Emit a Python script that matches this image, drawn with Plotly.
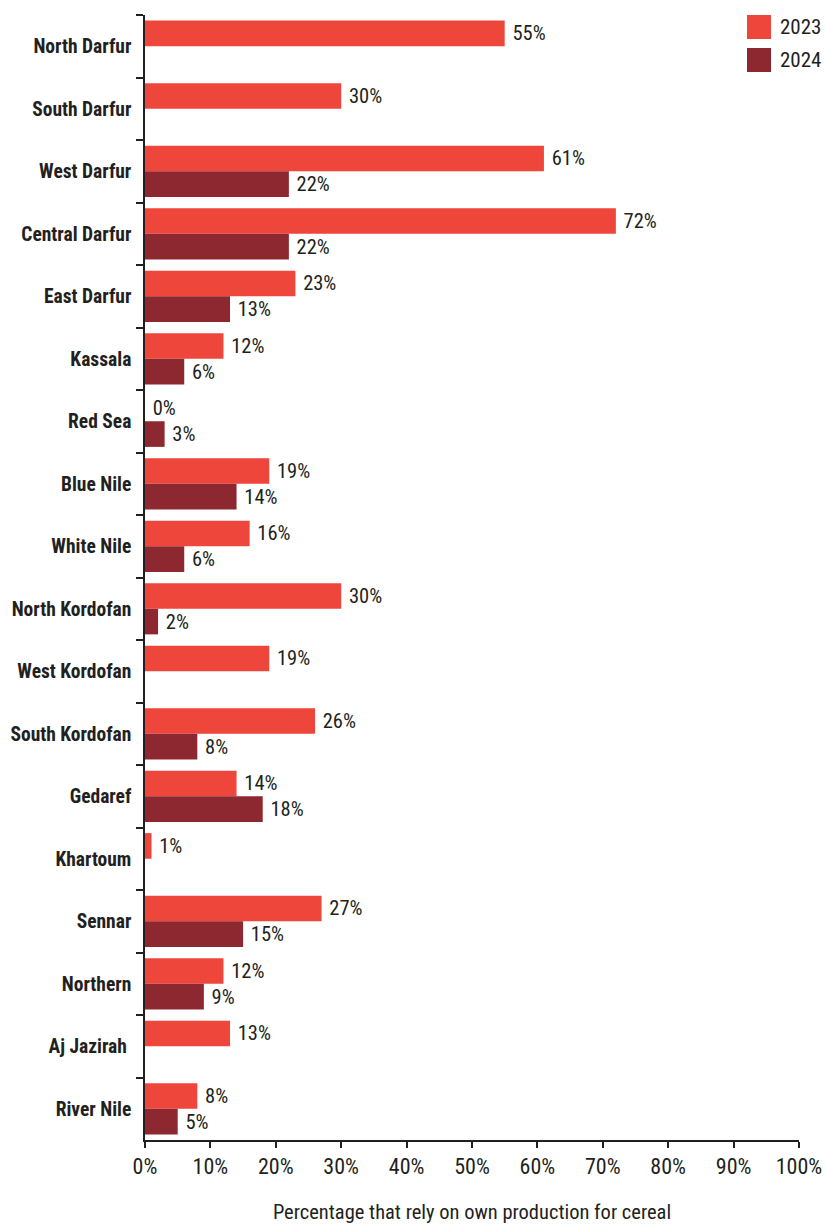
import plotly.graph_objects as go

regions = [
    "North Darfur", "South Darfur", "West Darfur", "Central Darfur", "East Darfur",
    "Kassala", "Red Sea", "Blue Nile", "White Nile", "North Kordofan",
    "West Kordofan", "South Kordofan", "Gedaref", "Khartoum", "Sennar",
    "Northern", "Aj Jazirah ", "River Nile",
]
share_2023 = [55, 30, 61, 72, 23, 12, 0, 19, 16, 30, 19, 26, 14, 1, 27, 12, 13, 8]
share_2024 = [None, None, 22, 22, 13, 6, 3, 14, 6, 2, None, 8, 18, None, 15, 9, None, 5]
x_ticks = list(range(0, 101, 10))
x_tick_labels = [f"{v}%" for v in x_ticks]

RED_2023 = "#EF463C"
RED_2024 = "#8E2830"
INK = "#231F20"
FONT = "Roboto Condensed, Liberation Sans Narrow, DejaVu Sans Condensed, sans-serif"

fig = go.Figure()
for name, vals, color in [("2023", share_2023, RED_2023), ("2024", share_2024, RED_2024)]:
    fig.add_trace(go.Bar(
        name=name, y=regions, x=vals, orientation="h",
        marker=dict(color=color, line=dict(width=0)),
        text=[None if v is None else f"\u00a0{v}%" for v in vals],
        textposition="outside", cliponaxis=False, constraintext="none",
        textfont=dict(family=FONT, size=20.5, color=INK),
        showlegend=False,
    ))

# legend swatches and labels, placed in pixel terms of the plot area
W, H = 825 - 145 - 26, 1224 - 15 - 84
def px_x(p): return (p - 145) / W
def px_y(p): return (1224 - 84 - p) / H
for i, (name, color) in enumerate([("2023", RED_2023), ("2024", RED_2024)]):
    top = 15 + i * 33
    fig.add_shape(type="rect", xref="paper", yref="paper",
                  x0=px_x(747), x1=px_x(771), y0=px_y(top), y1=px_y(top + 24),
                  fillcolor=color, line=dict(width=0))
    fig.add_annotation(xref="paper", yref="paper", x=px_x(778), y=px_y(top + 12),
                       text=name, showarrow=False, xanchor="left", yanchor="middle",
                       font=dict(family=FONT, size=21, color=INK))

fig.update_layout(
    width=825, height=1224,
    margin=dict(l=145, r=26, t=15, b=84),
    barmode="group", bargap=0.18, bargroupgap=0,
    plot_bgcolor="white", paper_bgcolor="white",
    font=dict(family=FONT, color=INK),
)
fig.update_xaxes(
    range=[0, 100], tickvals=x_ticks, ticktext=x_tick_labels, automargin=False,
    showgrid=False, zeroline=False, showline=True, linecolor=INK, linewidth=1.5,
    ticks="outside", ticklen=6, tickwidth=1.5, tickcolor=INK,
    tickfont=dict(family=FONT, size=22, color=INK),
    title=dict(text="Percentage that rely on own production for cereal",
               font=dict(family=FONT, size=20.5, color=INK), standoff=28),
)
fig.update_yaxes(
    categoryorder="array", categoryarray=regions, autorange="reversed", automargin=False,
    showgrid=False, zeroline=False, showline=True, linecolor=INK, linewidth=1.5,
    ticks="outside", tickson="boundaries", ticklen=7, tickwidth=1.5, tickcolor=INK,
    tickfont=dict(family=FONT, size=19.5, color=INK, weight="bold"),
    ticklabelstandoff=8,
)

fig.write_html("out.html")
